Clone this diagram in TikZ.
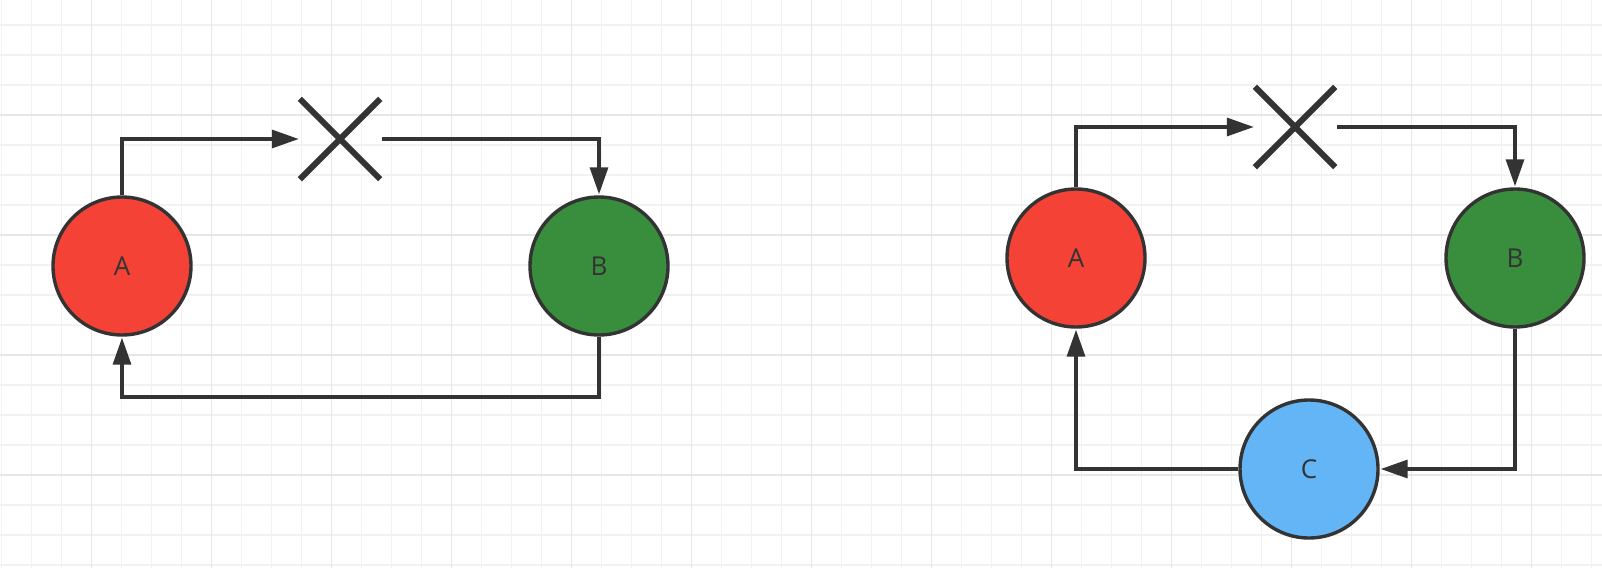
\documentclass[tikz,border=0pt]{standalone}
\usepackage{fontspec}
\setmainfont{Open Sans}
\usetikzlibrary{arrows.meta}
\definecolor{ink}{HTML}{333333}
\definecolor{gridminor}{HTML}{F2F2F2}
\definecolor{gridmajor}{HTML}{E6E6E6}
\definecolor{redfill}{HTML}{F44336}
\definecolor{greenfill}{HTML}{388E3C}
\definecolor{bluefill}{HTML}{64B5F6}
\begin{document}
\begin{tikzpicture}[x=1pt,y=-1pt,
  blob/.style={circle, draw=ink, line width=3.4pt, minimum size=138pt, inner sep=0pt, text=ink, font=\fontsize{26}{26}\selectfont},
  crossbox/.style={minimum size=80pt, inner sep=0pt},
  crossline/.style={draw=ink, line width=6pt},
  conn/.style={draw=ink, line width=3.3pt, shorten >=1pt, -{Triangle[length=27pt,width=18pt]}},
  minorline/.style={draw=gridminor, line width=1.5pt},
  majorline/.style={draw=gridmajor, line width=1.5pt},
]
\useasboundingbox (0,0) rectangle (1602,568);
\fill[white] (0,0) rectangle (1602,568);
% grid
\foreach \i in {0,...,53} \draw[minorline] (1.7+30*\i,0) -- (1.7+30*\i,568);
\foreach \i in {0,...,18} \draw[minorline] (0,25+30*\i) -- (1602,25+30*\i);
\foreach \i in {0,...,12} \draw[majorline] (91.7+120*\i,0) -- (91.7+120*\i,568);
\foreach \i in {0,...,3} \draw[majorline] (0,115+120*\i) -- (1602,115+120*\i);

% left diagram
\node[blob, fill=redfill] (A1) at (122,266) {A};
\node[blob, fill=greenfill] (B1) at (599,266) {B};
\node[crossbox] (X1) at (340,139) {};
\draw[crossline] (X1.north west) -- (X1.south east);
\draw[crossline] (X1.south west) -- (X1.north east);
\coordinate (b1) at (599,397);
\draw[conn] (A1.north) |- (X1.west);
\draw[conn] ([xshift=2pt]X1.east) -| (B1.north);
\draw[conn] (B1.south) -- (b1) -| (A1.south);

% right diagram
\node[blob, fill=redfill] (A2) at (1076,258) {A};
\node[blob, fill=greenfill] (B2) at (1515,258) {B};
\node[blob, fill=bluefill] (C) at (1309,469) {C};
\node[crossbox] (X2) at (1295,127) {};
\draw[crossline] (X2.north west) -- (X2.south east);
\draw[crossline] (X2.south west) -- (X2.north east);
\draw[conn] (A2.north) |- (X2.west);
\draw[conn] ([xshift=2pt]X2.east) -| (B2.north);
\draw[conn] (B2.south) |- (C.east);
\draw[conn] (C.west) -| (A2.south);
\end{tikzpicture}
\end{document}
